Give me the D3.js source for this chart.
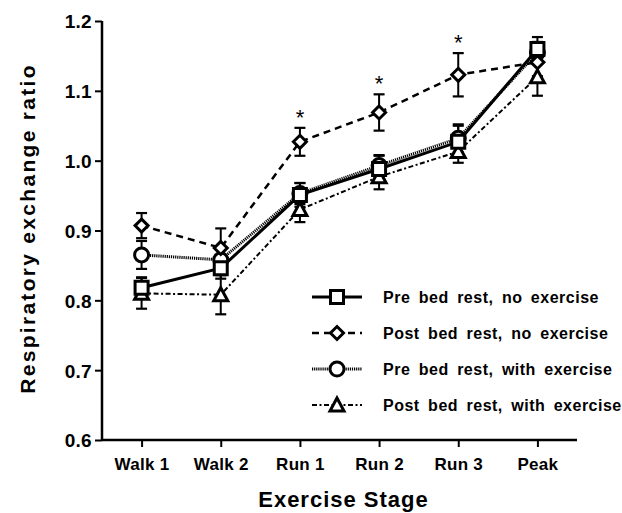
<!DOCTYPE html>
<html>
<head>
<meta charset="utf-8">
<script src="https://cdn.jsdelivr.net/npm/d3@7"></script>
<style>
  body { margin: 0; background: #fff; }
  svg text { font-family: "Liberation Sans", Arial, Helvetica, sans-serif; font-weight: bold; fill: #000; }
</style>
</head>
<body>
<svg id="chart" width="622" height="513"></svg>
<script>
// data
const stages = ['Walk 1', 'Walk 2', 'Run 1', 'Run 2', 'Run 3', 'Peak'];
const seriesNames = [
  'Pre bed rest, no exercise',
  'Post bed rest, no exercise',
  'Pre bed rest, with exercise',
  'Post bed rest, with exercise'
];
const preNoEx = [0.818, 0.846, 0.951, 0.988, 1.027, 1.160];
const preNoExErr = [0.015, 0.015, 0.017, 0.019, 0.023, 0.017];
const postNoEx = [0.907, 0.875, 1.027, 1.069, 1.123, 1.141];
const postNoExErr = [0.018, 0.028, 0.020, 0.026, 0.031, 0.020];
const preWithEx = [0.865, 0.858, 0.953, 0.993, 1.032, 1.155];
const preWithExErr = [0.020, 0.015, 0.015, 0.015, 0.020, 0.015];
const postWithEx = [0.810, 0.808, 0.930, 0.977, 1.013, 1.120];
const postWithExErr = [0.022, 0.028, 0.018, 0.018, 0.016, 0.027];
const significant = [false, false, true, true, true, false]; // * over post bed rest, no exercise
const yTicks = [0.6, 0.7, 0.8, 0.9, 1.0, 1.1, 1.2];

const series = [
  { name: seriesNames[0], values: preNoEx, err: preNoExErr, marker: 'square', dash: null, width: 3 },
  { name: seriesNames[1], values: postNoEx, err: postNoExErr, marker: 'diamond', dash: '7,5', width: 2.5 },
  { name: seriesNames[2], values: preWithEx, err: preWithExErr, marker: 'circle', dash: '1.2,0.9', width: 3 },
  { name: seriesNames[3], values: postWithEx, err: postWithExErr, marker: 'triangle', dash: '5,2.5,2,2.5', width: 2 }
];
// drawing order for markers: square last so it sits on top
const drawOrder = [3, 2, 1, 0];

const svg = d3.select('#chart');
const plotLeft = 102, plotRight = 577, plotTop = 21, plotBottom = 440;

const x = d3.scalePoint().domain(stages).range([plotLeft, plotRight]).padding(0.5);
const y = d3.scaleLinear().domain([0.6, 1.2]).range([plotBottom, plotTop]);

// axes
const yAxis = svg.append('g')
  .attr('transform', `translate(${plotLeft},0)`)
  .call(d3.axisLeft(y).tickValues(yTicks).tickFormat(d3.format('.1f')).tickSize(7).tickPadding(3));
const xAxis = svg.append('g')
  .attr('transform', `translate(0,${plotBottom})`)
  .call(d3.axisBottom(x).tickSize(7).tickPadding(9).tickSizeOuter(0));

[yAxis, xAxis].forEach(a => {
  a.attr('font-family', null).attr('font-size', null);
  a.select('.domain').attr('stroke', '#000').attr('stroke-width', 2.5);
  a.selectAll('.tick line').attr('stroke', '#000').attr('stroke-width', 2);
  a.selectAll('text').attr('fill', '#000');
});
yAxis.select('.domain').attr('d', `M0,${plotBottom}V${plotTop}`);
xAxis.select('.domain').attr('d', `M${plotLeft},0H${plotRight}`);
yAxis.selectAll('text').style('font-size', '19px').style('letter-spacing', '0.3px').attr('dy', '0.36em');
xAxis.selectAll('text').style('font-size', '17px').style('letter-spacing', '0.3px').attr('dy', '0.85em');

// axis titles
svg.append('text')
  .attr('transform', `translate(35,${(plotTop + plotBottom) / 2 - 2}) rotate(-90)`)
  .attr('text-anchor', 'middle')
  .style('font-size', '21px')
  .style('letter-spacing', '2.3px')
  .text('Respiratory exchange ratio');
svg.append('text')
  .attr('x', (plotLeft + plotRight) / 2 + 4)
  .attr('y', 507)
  .attr('text-anchor', 'middle')
  .style('font-size', '22px')
  .style('letter-spacing', '1px')
  .text('Exercise Stage');

function markerPath(type) {
  if (type === 'square') return 'M-6.5,-6.5H6.5V6.5H-6.5Z';
  if (type === 'diamond') return 'M0,-6.5L6.5,0L0,6.5L-6.5,0Z';
  if (type === 'triangle') return 'M0,-7L7,6H-7Z';
  return d3.arc()({ innerRadius: 0, outerRadius: 7, startAngle: 0, endAngle: 2 * Math.PI });
}

function addMarker(g, type, cx, cy) {
  g.append('path')
    .attr('d', markerPath(type))
    .attr('transform', `translate(${cx},${cy})`)
    .attr('fill', '#fff')
    .attr('stroke', '#000')
    .attr('stroke-width', 3)
    .attr('stroke-linejoin', 'miter');
}

const line = d3.line()
  .x((d, i) => x(stages[i]))
  .y(d => y(d));

const plot = svg.append('g');

// lines
drawOrder.forEach(k => {
  const s = series[k];
  plot.append('path')
    .attr('d', line(s.values))
    .attr('fill', 'none')
    .attr('stroke', '#000')
    .attr('stroke-width', s.width)
    .attr('stroke-dasharray', s.dash);
});

// error bars
drawOrder.forEach(k => {
  const s = series[k];
  s.values.forEach((v, i) => {
    const cx = x(stages[i]);
    const y0 = y(v - s.err[i]), y1 = y(v + s.err[i]);
    plot.append('line').attr('x1', cx).attr('x2', cx).attr('y1', y0).attr('y2', y1)
      .attr('stroke', '#000').attr('stroke-width', 2);
    [y0, y1].forEach(yy => {
      plot.append('line').attr('x1', cx - 5.5).attr('x2', cx + 5.5).attr('y1', yy).attr('y2', yy)
        .attr('stroke', '#000').attr('stroke-width', 2.2);
    });
  });
});

// markers
drawOrder.forEach(k => {
  const s = series[k];
  s.values.forEach((v, i) => addMarker(plot, s.marker, x(stages[i]), y(v)));
});

// significance stars
const postSeries = series[1];
significant.forEach((sig, i) => {
  if (!sig) return;
  svg.append('text')
    .attr('x', x(stages[i]))
    .attr('y', y(postSeries.values[i] + postSeries.err[i]) - 3)
    .attr('text-anchor', 'middle')
    .style('font-size', '22px')
    .style('font-weight', 'normal')
    .text('*');
});

// legend
const legend = svg.append('g').attr('transform', 'translate(312,297)');
series.forEach((s, i) => {
  const row = legend.append('g').attr('transform', `translate(0,${i * 36})`);
  row.append('line')
    .attr('x1', 0).attr('x2', 50).attr('y1', 0).attr('y2', 0)
    .attr('stroke', '#000')
    .attr('stroke-width', s.width)
    .attr('stroke-dasharray', s.dash);
  addMarker(row, s.marker, 25, 0);
  row.append('text')
    .attr('x', 71)
    .attr('y', 6)
    .style('font-size', '16px')
    .style('letter-spacing', '0.5px')
    .style('word-spacing', '3.5px')
    .text(s.name);
});
</script>
</body>
</html>
